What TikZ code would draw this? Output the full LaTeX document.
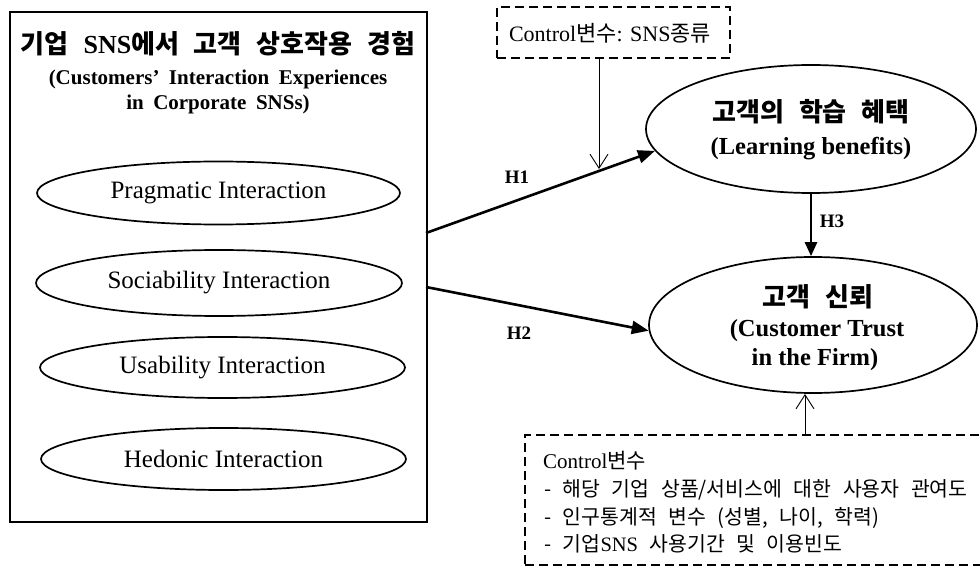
\documentclass[tikz,border=0pt]{standalone}
\usepackage{fontspec}
\setmainfont{Liberation Serif}
\newfontfamily\kr{Noto Sans CJK KR}[WordSpace=2.5]
\newfontfamily\widerm{Liberation Serif}[WordSpace=1.8]
\usetikzlibrary{arrows.meta,shapes.geometric}
\begin{document}
\begin{tikzpicture}[x=1pt,y=-1pt,
  oval/.style={draw, ellipse, line width=1.7pt, inner sep=0pt},
  small/.style={oval, font=\fontsize{25}{28}\selectfont},
  hyp/.style={line width=2.6pt, -{Triangle[length=17pt,width=13pt]}},
  ctrl/.style={line width=0.9pt, -{Straight Barb[length=14pt,width=18pt]}},
  dbox/.style={draw, dash pattern=on 9pt off 5pt, line width=2pt, inner sep=0pt},
  hlab/.style={anchor=base, font=\fontsize{19}{22}\selectfont\bfseries},
  tline/.style={anchor=base, inner sep=0pt}
]
\useasboundingbox (0,0) rectangle (980,569);
% left box
\node[draw, line width=1.5pt, minimum width=417, minimum height=510, inner sep=0pt] (leftbox) at (218.5,267) {};
\node[tline, font=\fontsize{26}{28}\selectfont\bfseries] (title) at (218,54) {{\kr 기업 }SNS{\kr 에서 고객 상호작용 경험}};
\node[tline, font=\fontsize{21}{24}\selectfont\widerm\bfseries] (sub1) at (218,85) {(Customers’ Interaction Experiences};
\node[tline, font=\fontsize{21}{24}\selectfont\widerm\bfseries] (sub2) at (218,110) {in Corporate SNSs)};
\node[small, minimum width=363, minimum height=63] (prag) at (218.5,193) {Pragmatic Interaction};
\node[small, minimum width=366, minimum height=66] (soc) at (219,283) {Sociability Interaction};
\node[small, minimum width=365, minimum height=61] (usa) at (222.5,367.5) {Usability Interaction};
\node[small, minimum width=365, minimum height=62] (hed) at (223.5,459) {Hedonic Interaction};
% right ellipses
\node[oval, minimum width=330, minimum height=128] (learn) at (811,129) {};
\node[tline, font=\fontsize{26}{28}\selectfont\bfseries\kr] (learnk) at (811,122) {고객의 학습 혜택};
\node[tline, font=\fontsize{24.5}{28}\selectfont\bfseries] (learne) at (811,155) {(Learning benefits)};
\node[oval, minimum width=328, minimum height=136] (trust) at (813,325) {};
\node[tline, font=\fontsize{26}{28}\selectfont\bfseries\kr] (trustk) at (818,307) {고객 신뢰};
\node[tline, font=\fontsize{24.5}{28}\selectfont\bfseries] (truste1) at (817,337) {(Customer Trust};
\node[tline, font=\fontsize{24.5}{28}\selectfont\bfseries] (truste2) at (815,365) {in the Firm)};
% control boxes
\node[dbox, minimum width=233, minimum height=51] (topbox) at (613.5,32.5) {};
\node[tline, font=\fontsize{22}{24}\selectfont] (toptext) at (610,42) {Control{\kr 변수}: SNS{\kr 종류}};
\node[dbox, minimum width=470, minimum height=130] (botbox) at (760,500) {};
\node[tline, anchor=base west, font=\fontsize{21}{24}\selectfont] (c1) at (543,468) {Control{\kr 변수}};
\node[tline, anchor=base west, font=\fontsize{20.5}{24}\selectfont\kr] (c2) at (544,496) {- 해당 기업 상품/서비스에 대한 사용자 관여도};
\node[tline, anchor=base west, font=\fontsize{20.5}{24}\selectfont\kr] (c3) at (544,524) {- 인구통계적 변수 (성별, 나이, 학력)};
\node[tline, anchor=base west, font=\fontsize{20.5}{24}\selectfont] (c4) at (544,551) {{\kr - 기업}SNS{\kr\ 사용기간 및 이용빈도}};
% hypotheses
\coordinate (h1s) at (426,233);
\coordinate (h2s) at (426,287);
\draw[hyp] (h1s) -- (learn.188);
\draw[hyp] (h2s) -- (trust.182);
\draw[hyp, -{Triangle[length=14pt,width=12pt]}] (learn.south) -- (learn.south |- trust.north);
\node[hlab] (H1) at (517,184) {H1};
\node[hlab] (H2) at (519,340) {H2};
\node[hlab] (H3) at (832,228) {H3};
% control arrows
\coordinate (ct) at (599,169);
\coordinate (cb) at (805,394);
\draw[ctrl] (topbox.south -| ct) -- (ct);
\draw[ctrl] (botbox.north -| cb) -- (cb);
\end{tikzpicture}
\end{document}
